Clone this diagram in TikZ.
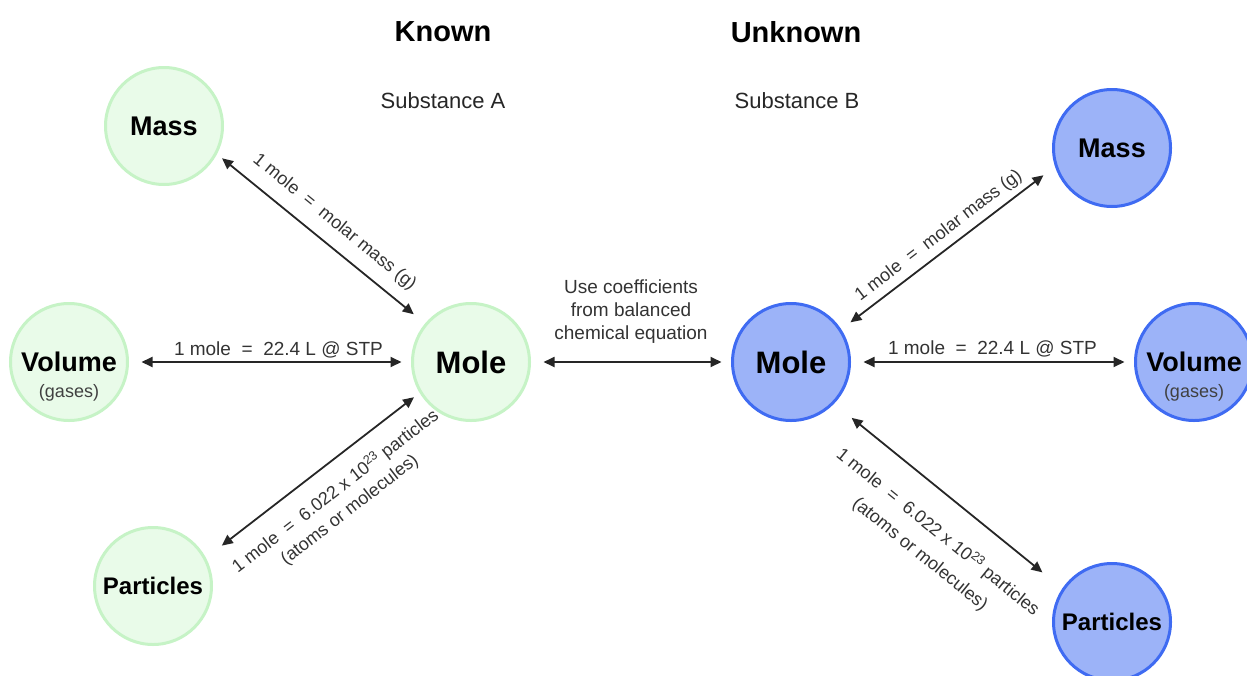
\documentclass[tikz,border=0pt]{standalone}
\usepackage{fontspec}
\setmainfont{Liberation Sans}
\usetikzlibrary{arrows.meta}

\definecolor{knownfill}{HTML}{E9FBE9}
\definecolor{knownline}{HTML}{C6F3C6}
\definecolor{unknownfill}{HTML}{9CB3F8}
\definecolor{unknownline}{HTML}{3F6BF2}

\begin{document}
\begin{tikzpicture}[x=1pt, y=-1pt,
    known/.style={circle, draw=knownline, fill=knownfill, line width=3pt,
      minimum size=117pt, inner sep=0pt, font=\fontsize{27}{30}\selectfont\bfseries},
    unknown/.style={known, draw=unknownline, fill=unknownfill},
    molenode/.style={font=\fontsize{31}{34}\selectfont\bfseries},
    partnode/.style={font=\fontsize{24}{28}\selectfont\bfseries},
    gasestext/.style={font=\fontsize{18}{20}\selectfont, text=black!75},
    conv/.style={{Triangle[length=11pt,width=10pt]}-{Triangle[length=11pt,width=10pt]},
      line width=1.8pt, draw=black!85},
    convtext/.style={font=\fontsize{19}{23}\selectfont, text=black!80, align=center},
    slopetext/.style={convtext, font=\fontsize{18}{23}\selectfont},
    heading/.style={font=\fontsize{29}{32}\selectfont\bfseries},
    subheading/.style={font=\fontsize{22}{24}\selectfont, text=black!85}]

  \useasboundingbox (0,0) rectangle (1247,675);

  % 1. column titles
  \node[heading] (known) at (443,32) {Known};
  \node[heading] (unknown) at (796,32) {Unknown};
  \node[subheading] (subA) at (443,101) {Substance A};
  \node[subheading] (subB) at (797,101) {Substance B};

  % 2. substance A (known)
  \node[known, molenode] (lmole) at (471,362) {Mole};
  \node[known] (lmass) at (164,126) {Mass};
  \node[known, label={[gasestext, yshift=-31pt]center:(gases)}] (lvol) at (69,362) {Volume};
  \node[known, partnode] (lpart) at (153,586) {Particles};

  % 3. substance B (unknown)
  \node[unknown, molenode] (rmole) at (791,362) {Mole};
  \node[unknown] (rmass) at (1112,148) {Mass};
  \node[unknown, label={[gasestext, yshift=-31pt]center:(gases)}] (rvol) at (1194,362) {Volume};
  \node[unknown, partnode] (rpart) at (1112,622) {Particles};

  % 4. conversions for A
  \draw[conv, shorten <=6.5pt, shorten >=14.5pt] (lmass.-28) --
    node[slopetext, sloped, above, inner sep=12pt] (lmasstext) {1 mole \ = \ molar mass (g)} (lmole.140);
  \draw[conv, shorten <=12.5pt, shorten >=9.5pt] (lvol.east) --
    node[convtext, above, pos=0.53] (lvoltext) {1 mole \ = \ 22.4 L @ STP} (lmole.west);
  \draw[conv, shorten <=20pt, shorten >=7pt] (lpart.28) --
    node[slopetext, sloped, below, inner sep=16pt, pos=0.53] (lparttext)
      {1 mole \ = \ 6.022 x 10\textsuperscript{23} particles\\(atoms or molecules)} (lmole.211);

  % 5. mole ratio between A and B
  \draw[conv, shorten <=12.5pt, shorten >=9.5pt] (lmole.east) --
    node[convtext, above, inner sep=18pt] (ratiotext)
      {Use coefficients\\from balanced\\chemical equation} (rmole.west);

  % 6. conversions for B
  \draw[conv, shorten <=11.5pt, shorten >=14.4pt] (rmole.33) --
    node[slopetext, sloped, above, inner sep=6pt] (rmasstext) {1 mole \ = \ molar mass (g)} (rmass.198);
  \draw[conv, shorten <=12.5pt, shorten >=9.5pt] (rmole.east) --
    node[convtext, above, inner sep=4pt] (rvoltext) {1 mole \ = \ 22.4 L @ STP} (rvol.west);
  \draw[conv, shorten <=22.5pt, shorten >=25.5pt] (rmole.-44) --
    node[slopetext, sloped, below, inner sep=24pt, pos=0.55, font=\fontsize{18}{28}\selectfont] (rparttext)
      {1 mole \ = \ 6.022 x 10\textsuperscript{23} particles\\(atoms or molecules)} (rpart.146);
\end{tikzpicture}
\end{document}
